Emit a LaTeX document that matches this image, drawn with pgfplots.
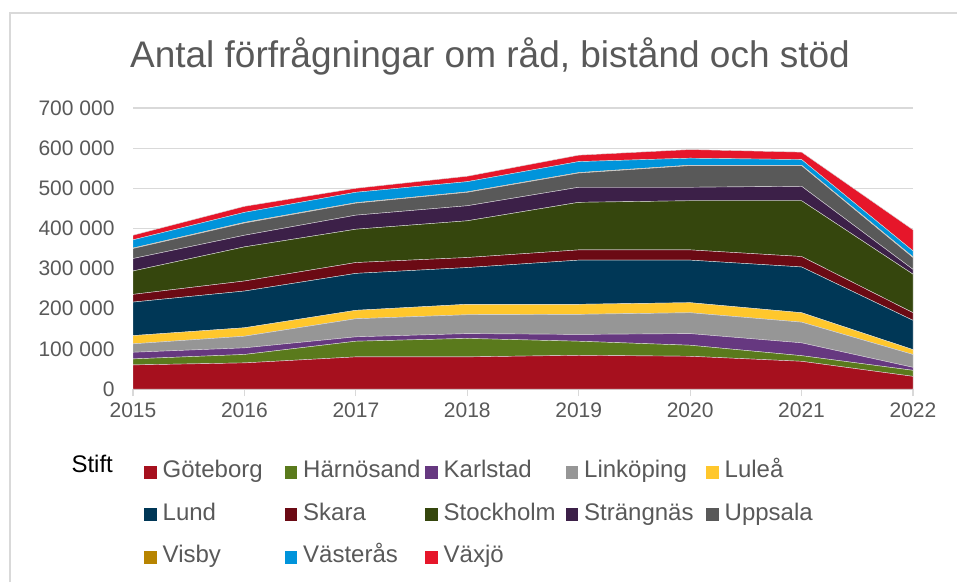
\documentclass[border=0pt]{standalone}
\usepackage{pgfplots}
\pgfplotsset{compat=1.18}
\usepackage{pgfplotstable}
\usepackage{fontspec}
\setmainfont{Liberation Sans}
\definecolor{goteborg}{RGB}{166,16,30}
\definecolor{harnosand}{RGB}{90,122,28}
\definecolor{karlstad}{RGB}{102,56,128}
\definecolor{linkoping}{RGB}{150,150,150}
\definecolor{lulea}{RGB}{255,199,44}
\definecolor{lund}{RGB}{0,55,86}
\definecolor{skara}{RGB}{107,10,20}
\definecolor{stockholm}{RGB}{53,70,13}
\definecolor{strangnas}{RGB}{60,32,72}
\definecolor{uppsala}{RGB}{89,89,89}
\definecolor{visby}{RGB}{183,132,0}
\definecolor{vasteras}{RGB}{0,148,219}
\definecolor{vaxjo}{RGB}{230,22,42}
\definecolor{textgray}{RGB}{89,89,89}
\definecolor{gridgray}{RGB}{217,217,217}
\pgfplotstableread{
year Got Har Kar Lin Lul Lund Ska Sto Str Upp Vis Vas Vax
2015 60000 15000 16500 21000 20500 83500 19200 58300 31000 25000 1000 20500 11500
2016 65000 21000 16500 29000 21000 91500 25000 85000 29000 30500 1500 25000 15000
2017 80000 39000 11000 45000 21000 92000 27000 83000 35000 30000 1000 26000 10000
2018 80000 46000 12000 47000 26000 91500 25000 91500 37500 33500 1000 25500 13500
2019 84000 35000 17000 50000 25000 110000 25500 118500 37500 35500 1000 27500 16000
2020 81500 27500 29000 52000 25000 106000 25500 122500 33500 54000 1000 17500 21500
2021 69000 14000 32000 51500 23500 114000 26000 139000 36000 51500 1000 14000 18500
2022 31500 15000 7500 32000 12000 73000 19000 96000 12000 29500 1500 15000 52500
}\data
\begin{document}
\begin{tikzpicture}
\path[use as bounding box] (0,0) rectangle (957pt,582pt);
\fill[white] (0,0) rectangle (957pt,582pt);
\draw[gridgray, line width=1.5pt] (10pt,0) -- (10pt,569pt) -- (957pt,569pt);
\node[anchor=base, text=textgray, font=\fontsize{37}{42}\selectfont] at (490pt,514pt) {Antal förfrågningar om råd, bistånd och stöd};
\node[anchor=base west, text=black, font=\fontsize{24}{28}\selectfont] at (68pt,110pt) {Stift};
\begin{axis}[
  at={(133pt,193pt)}, anchor=south west,
  scale only axis, width=780pt, height=281pt,
  xmin=2015, xmax=2022, ymin=0, ymax=700000,
  scaled y ticks=false, scaled x ticks=false,
  xtick={2015,2016,2017,2018,2019,2020,2021,2022},
  xticklabels={2015,2016,2017,2018,2019,2020,2021,2022},
  ytick={0,100000,200000,300000,400000,500000,600000,700000},
  yticklabels={0,{100 000},{200 000},{300 000},{400 000},{500 000},{600 000},{700 000}},
  ymajorgrids, grid style={gridgray, line width=1.1pt},
  axis x line*=bottom, axis y line*=left,
  x axis line style={gridgray, line width=1.5pt, -},
  y axis line style={draw=none},
  tick align=outside, major tick length=7pt,
  xtick style={gridgray, line width=1.2pt},
  ytick style={draw=none},
  ticklabel style={text=textgray, font=\fontsize{21}{25}\selectfont},
  xticklabel style={yshift=-3pt},
  yticklabel style={xshift=-8pt},
  stack plots=y,
  every axis plot/.append style={draw=white!70!gray, line width=0.4pt},
  area legend,
  legend image code/.code={\path[#1,draw=none] (0pt,-6.5pt) rectangle (12.5pt,6.5pt);},
  legend columns=5,
  legend style={draw=none, fill=none, at={(rel axis cs:0.0141,-0.255)}, anchor=north west,
    inner sep=0pt, font=\fontsize{24}{28}\selectfont, text=textgray,
    nodes={inner sep=0pt, text width=122pt, text height=17pt, text depth=6pt, anchor=west},
    /tikz/every odd column/.append style={column sep=6pt},
    row sep=19.5pt},
]
\addplot[fill=goteborg] table[x=year,y=Got]{\data} \closedcycle;
\addlegendentry{Göteborg}
\addplot[fill=harnosand] table[x=year,y=Har]{\data} \closedcycle;
\addlegendentry{Härnösand}
\addplot[fill=karlstad] table[x=year,y=Kar]{\data} \closedcycle;
\addlegendentry{Karlstad}
\addplot[fill=linkoping] table[x=year,y=Lin]{\data} \closedcycle;
\addlegendentry{Linköping}
\addplot[fill=lulea] table[x=year,y=Lul]{\data} \closedcycle;
\addlegendentry{Luleå}
\addplot[fill=lund] table[x=year,y=Lund]{\data} \closedcycle;
\addlegendentry{Lund}
\addplot[fill=skara] table[x=year,y=Ska]{\data} \closedcycle;
\addlegendentry{Skara}
\addplot[fill=stockholm] table[x=year,y=Sto]{\data} \closedcycle;
\addlegendentry{Stockholm}
\addplot[fill=strangnas] table[x=year,y=Str]{\data} \closedcycle;
\addlegendentry{Strängnäs}
\addplot[fill=uppsala] table[x=year,y=Upp]{\data} \closedcycle;
\addlegendentry{Uppsala}
\addplot[fill=visby] table[x=year,y=Vis]{\data} \closedcycle;
\addlegendentry{Visby}
\addplot[fill=vasteras] table[x=year,y=Vas]{\data} \closedcycle;
\addlegendentry{Västerås}
\addplot[fill=vaxjo] table[x=year,y=Vax]{\data} \closedcycle;
\addlegendentry{Växjö}
\end{axis}
\end{tikzpicture}
\end{document}
